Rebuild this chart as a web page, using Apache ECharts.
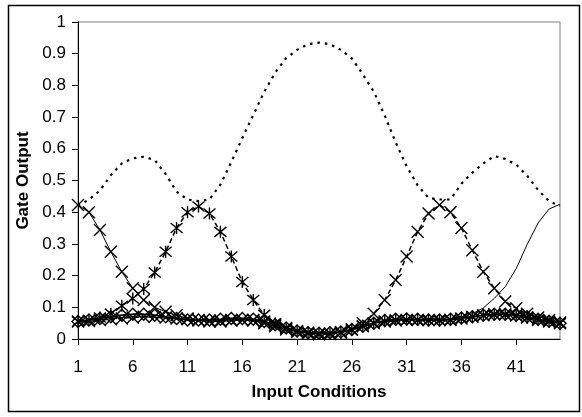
<!DOCTYPE html>
<html>
<head>
<meta charset="utf-8">
<script src="https://cdn.jsdelivr.net/npm/echarts@6/dist/echarts.min.js"></script>
<style>
html,body{margin:0;padding:0;background:#fff;}
#chart{width:582px;height:417px;}
</style>
</head>
<body>
<div id="chart"></div>
<script>
var categories = [1,2,3,4,5,6,7,8,9,10,11,12,13,14,15,16,17,18,19,20,21,22,23,24,25,26,27,28,29,30,31,32,33,34,35,36,37,38,39,40,41,42,43,44,45];
var yTicks = [0,0.1,0.2,0.3,0.4,0.5,0.6,0.7,0.8,0.9,1];

// dotted envelope (no markers)
var envelope = [0.42,0.44,0.468,0.517,0.554,0.57,0.575,0.565,0.52,0.465,0.44,0.435,0.44,0.487,0.559,0.634,0.707,0.78,0.84,0.886,0.912,0.93,0.935,0.93,0.912,0.885,0.835,0.78,0.705,0.62,0.545,0.485,0.445,0.44,0.44,0.49,0.525,0.554,0.577,0.568,0.55,0.515,0.47,0.435,0.42];
// X markers, solid line
var gateA = [0.423,0.40,0.344,0.275,0.212,0.16,0.123,0.10,0.086,0.075,0.065,0.058,0.055,0.055,0.058,0.06,0.058,0.05,0.04,0.03,0.022,0.018,0.015,0.018,0.022,0.03,0.04,0.05,0.055,0.058,0.06,0.06,0.06,0.06,0.06,0.065,0.07,0.075,0.078,0.078,0.075,0.068,0.06,0.055,0.05];
// asterisk markers, dashed line
var gateB = [0.055,0.06,0.068,0.08,0.105,0.128,0.158,0.21,0.275,0.35,0.40,0.418,0.396,0.338,0.26,0.18,0.123,0.076,0.05,0.035,0.025,0.02,0.018,0.018,0.02,0.028,0.04,0.05,0.056,0.06,0.06,0.06,0.058,0.058,0.06,0.065,0.07,0.074,0.076,0.076,0.072,0.066,0.06,0.055,0.05];
// X markers, dashed line
var gateC = [0.055,0.057,0.06,0.062,0.065,0.068,0.07,0.07,0.068,0.065,0.062,0.06,0.058,0.058,0.06,0.06,0.06,0.055,0.045,0.035,0.025,0.02,0.016,0.016,0.02,0.03,0.05,0.08,0.123,0.186,0.26,0.338,0.396,0.423,0.40,0.35,0.28,0.212,0.16,0.118,0.097,0.08,0.068,0.06,0.052];
// solid line, no markers
var gateD = [0.052,0.056,0.06,0.064,0.068,0.07,0.07,0.068,0.066,0.063,0.06,0.06,0.06,0.06,0.061,0.061,0.06,0.055,0.046,0.036,0.027,0.022,0.02,0.02,0.023,0.03,0.04,0.05,0.056,0.06,0.061,0.061,0.06,0.06,0.063,0.07,0.08,0.098,0.128,0.165,0.222,0.298,0.366,0.41,0.425];
// diamond markers, solid line
var gateE = [0.055,0.06,0.065,0.07,0.075,0.078,0.078,0.075,0.07,0.065,0.06,0.06,0.06,0.062,0.065,0.065,0.062,0.055,0.045,0.035,0.025,0.02,0.018,0.02,0.022,0.03,0.04,0.05,0.058,0.062,0.063,0.062,0.06,0.06,0.062,0.066,0.07,0.075,0.078,0.078,0.075,0.07,0.062,0.056,0.05];

var FONT = 'Liberation Sans';
var xSym = 'path://M0,0L10,10M10,0L0,10';
var starSym = 'path://M0,0L10,10M10,0L0,10M5,-1L5,11';

function markerSeries(name, data, sym, lineStyle) {
  return {
    name: name, type: 'line', data: data, symbol: sym, symbolSize: 12,
    showSymbol: true, showAllSymbol: true, animation: false,
    itemStyle: {color: 'rgba(0,0,0,0)', borderColor: '#000', borderWidth: 1.4},
    lineStyle: lineStyle,
    z: 3
  };
}

var chart = echarts.init(document.getElementById('chart'), null, {renderer: 'canvas'});
chart.setOption({
  animation: false,
  backgroundColor: '#fff',
  grid: {left: 78, right: 22, top: 22, bottom: 78, show: true, borderColor: '#808080', borderWidth: 1, backgroundColor: 'transparent'},
  graphic: [{
    type: 'rect', shape: {x: 8.5, y: 5.5, width: 571, height: 406},
    style: {fill: 'none', stroke: '#000', lineWidth: 1.5}, z: -1
  }],
  xAxis: {
    type: 'category', data: categories, boundaryGap: false,
    name: 'Input Conditions', nameLocation: 'middle', nameGap: 45,
    nameTextStyle: {fontFamily: FONT, fontSize: 17, fontWeight: 'bold', color: '#000'},
    axisLine: {lineStyle: {color: '#000', width: 1}},
    axisTick: {show: true, interval: 4, length: 6, lineStyle: {color: '#000'}},
    axisLabel: {interval: 4, margin: 20, fontFamily: FONT, fontSize: 17, color: '#000'},
    splitLine: {show: false}
  },
  yAxis: {
    type: 'value', min: 0, max: 1, interval: 0.1,
    name: 'Gate Output', nameLocation: 'middle', nameGap: 45, nameRotate: 90,
    nameTextStyle: {fontFamily: FONT, fontSize: 17, fontWeight: 'bold', color: '#000'},
    axisLine: {show: true, lineStyle: {color: '#000', width: 1}},
    axisTick: {show: true, length: 6, lineStyle: {color: '#000'}},
    axisLabel: {margin: 12, fontFamily: FONT, fontSize: 17, color: '#000',
      formatter: function (v) { var t = yTicks.filter(function (k) { return Math.abs(k - v) < 1e-6; }); return t.length ? String(t[0]) : ''; }},
    splitLine: {show: false}
  },
  series: [
    {name: 'Envelope', type: 'line', data: envelope, symbol: 'none', animation: false,
     lineStyle: {color: '#000', width: 2.2, type: [2.5, 5]}, z: 2},
    {name: 'Gate D', type: 'line', data: gateD, symbol: 'none', animation: false,
     lineStyle: {color: '#000', width: 1}, z: 2},
    markerSeries('Gate E', gateE, 'diamond', {color: '#000', width: 1.8}),
    markerSeries('Gate A', gateA, xSym, {color: '#000', width: 1}),
    markerSeries('Gate B', gateB, starSym, {color: '#000', width: 1.5, type: [5, 3]}),
    markerSeries('Gate C', gateC, xSym, {color: '#000', width: 1.5, type: [5, 3]})
  ]
});
</script>
</body>
</html>
